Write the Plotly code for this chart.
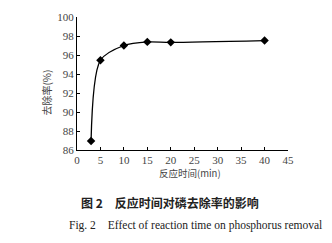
import plotly.graph_objects as go

times = [3, 5, 10, 15, 20, 40]
removal = [86.95, 95.45, 97.0, 97.38, 97.33, 97.52]
x_ticks = [0, 5, 10, 15, 20, 25, 30, 35, 40, 45]
y_ticks = [86, 88, 90, 92, 94, 96, 98, 100]

fig = go.Figure()
fig.add_trace(go.Scatter(
    x=times, y=removal, mode="lines+markers",
    line=dict(color="black", width=1.3, shape="spline", smoothing=0.8),
    marker=dict(symbol="diamond", size=6.5, color="black"),
    showlegend=False,
))

serif = "Liberation Serif, Times New Roman, serif"
cjk = "Noto Sans CJK SC"

fig.update_layout(
    width=332, height=243,
    margin=dict(l=77, r=44, t=11, b=93),
    paper_bgcolor="white", plot_bgcolor="white",
    xaxis=dict(range=[0, 45], tickvals=x_ticks, showline=True, linecolor="black", linewidth=1,
               ticks="inside", ticklen=3, tickcolor="black", showgrid=False, zeroline=False,
               tickfont=dict(family=serif, size=11, color="#444")),
    yaxis=dict(range=[86, 100], tickvals=y_ticks, showline=True, linecolor="black", linewidth=1,
               ticks="inside", ticklen=3, tickcolor="black", showgrid=False, zeroline=False,
               tickfont=dict(family=serif, size=11, color="#444")),
    annotations=[
        dict(text="去除率(%)", xref="paper", yref="paper", x=-0.142, y=0.432,
             xanchor="center", yanchor="middle",
             textangle=-90, showarrow=False, font=dict(family=cjk, size=10, color="#444")),
        dict(text="反应时间(min)", xref="paper", yref="paper", x=0.535, y=-0.175,
             xanchor="center", yanchor="middle",
             showarrow=False, font=dict(family=cjk, size=9.5, color="#444")),
        dict(text="<b>图 2　反应时间对磷去除率的影响</b>", xref="paper", yref="paper",
             x=0.44, y=-0.396, xanchor="center", yanchor="middle", showarrow=False,
             font=dict(family=cjk, size=12, color="#222")),
        dict(text="Fig. 2　Effect of reaction time on phosphorus removal", xref="paper", yref="paper",
             x=-0.047, y=-0.568, xanchor="left", yanchor="middle", showarrow=False,
             font=dict(family=serif, size=11.5, color="#222")),
    ],
)
fig.write_html("out.html")
